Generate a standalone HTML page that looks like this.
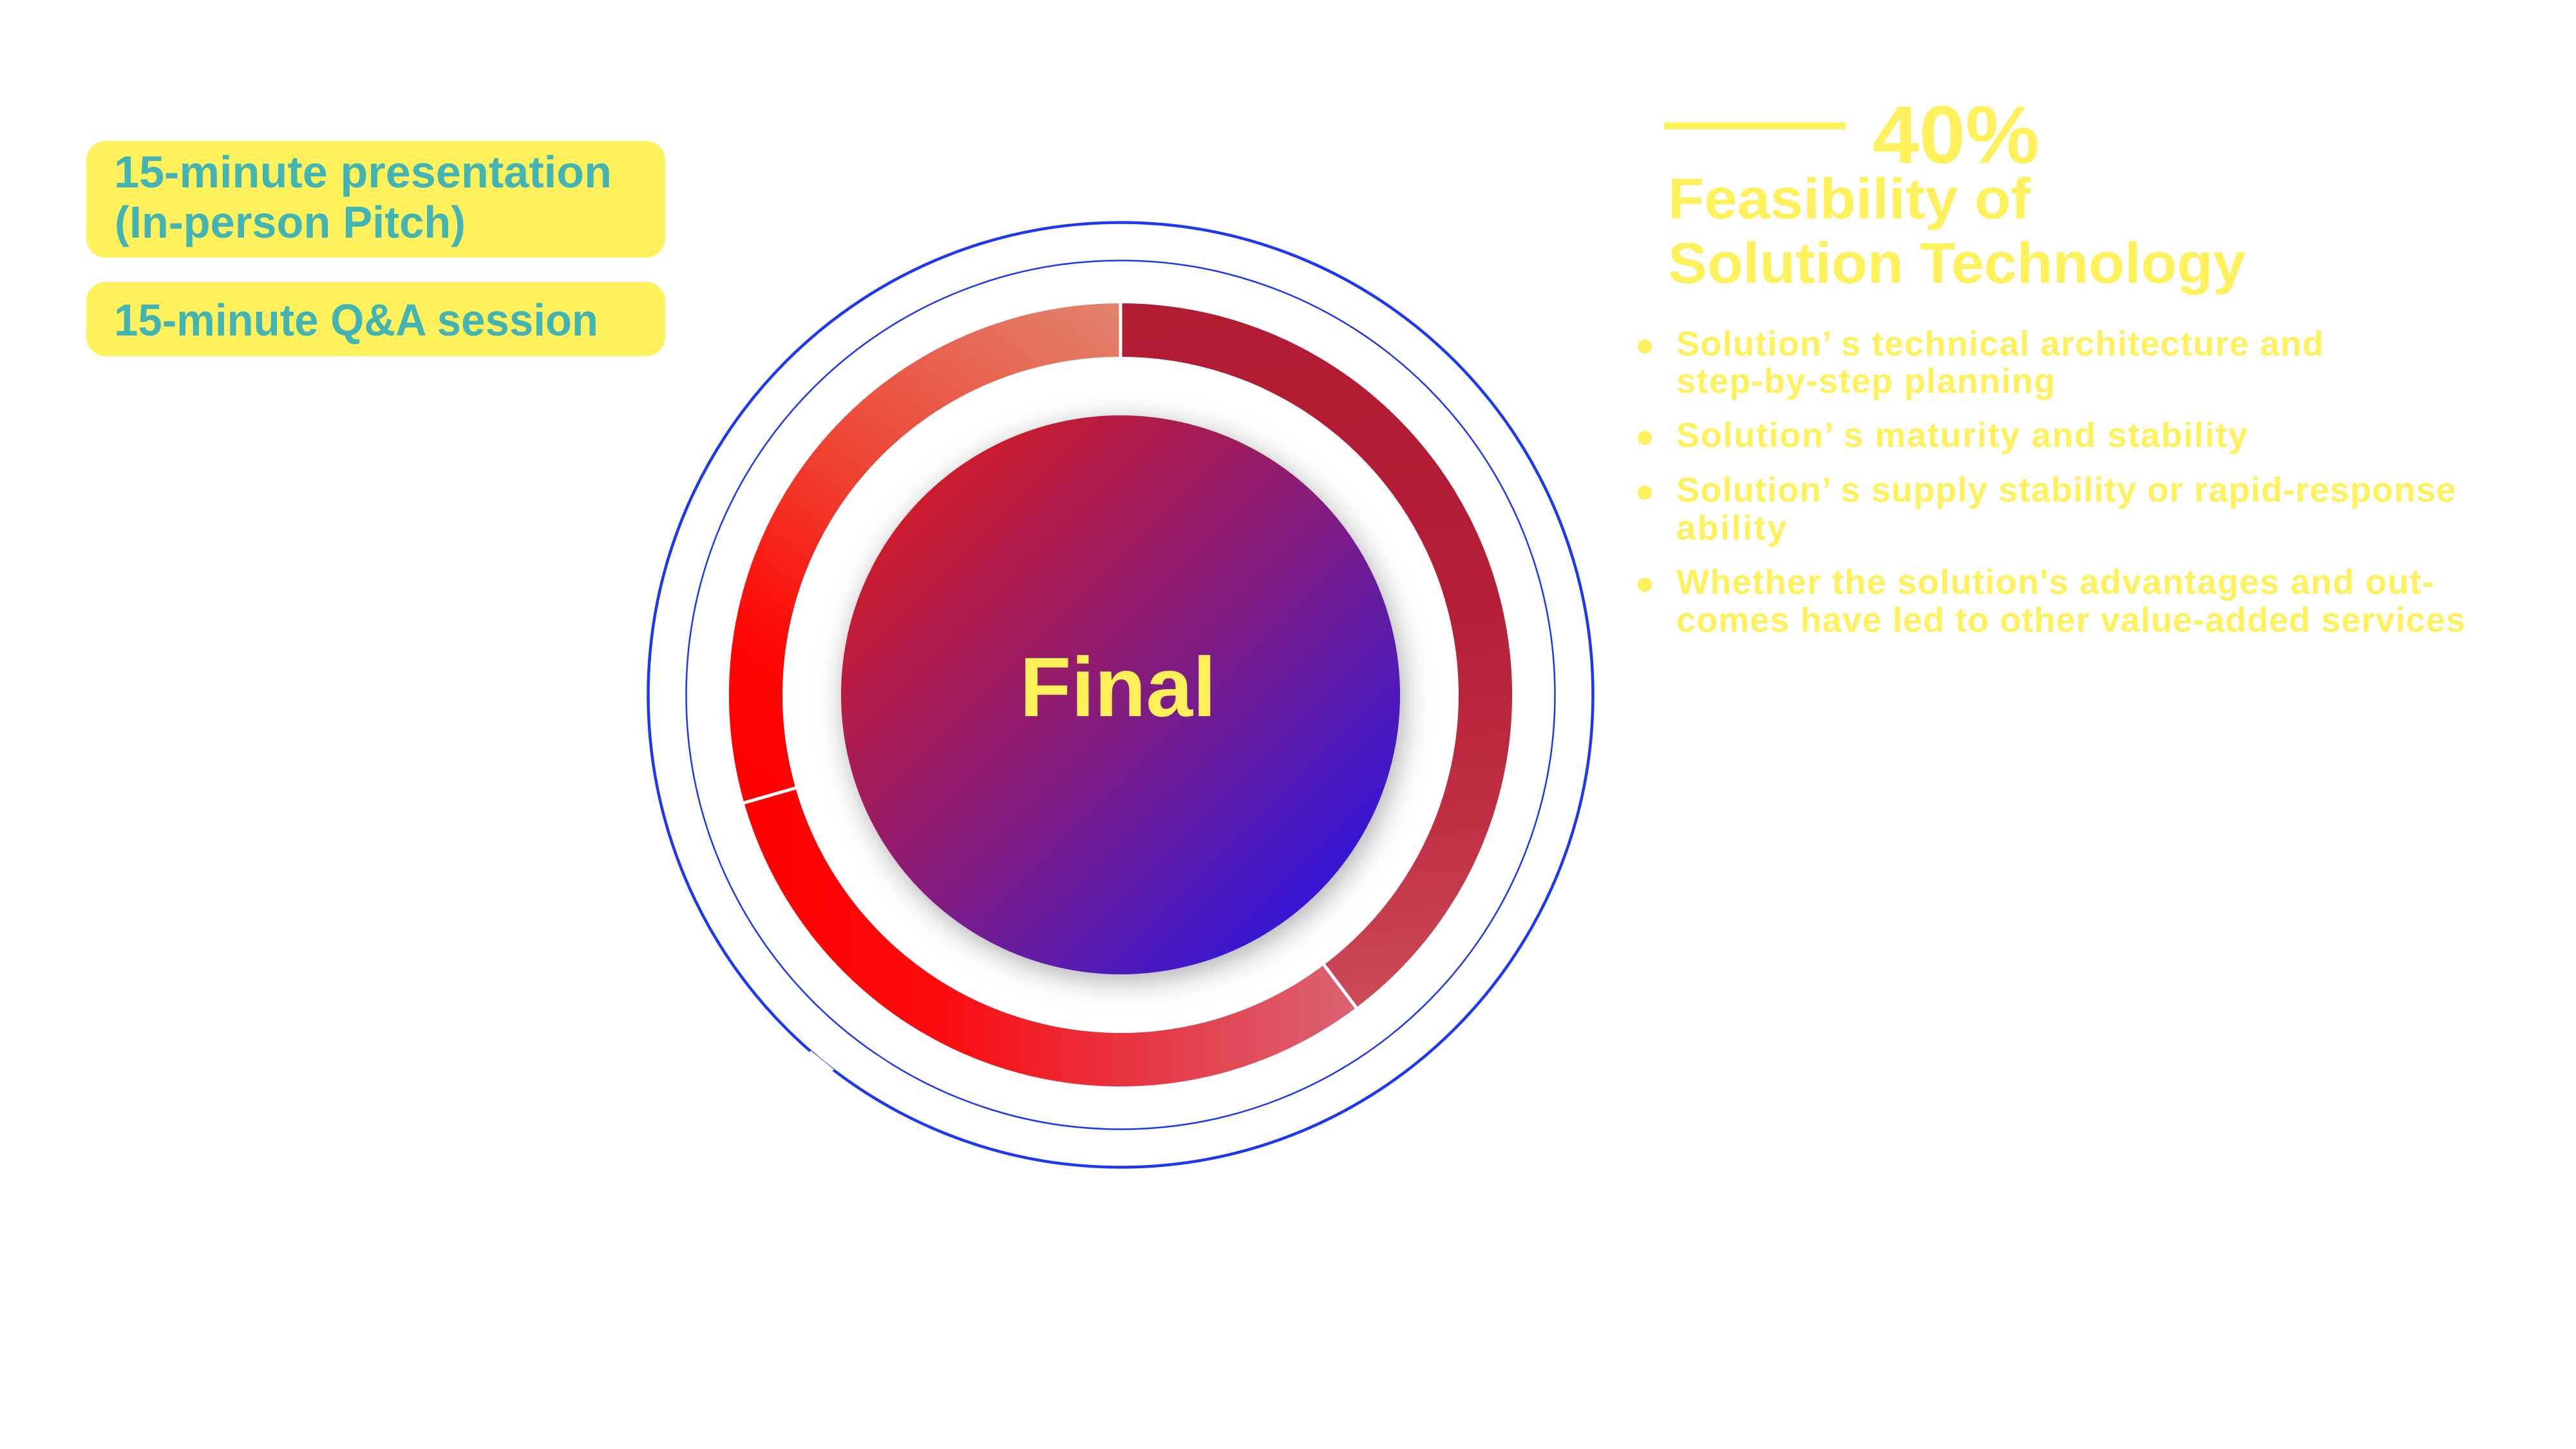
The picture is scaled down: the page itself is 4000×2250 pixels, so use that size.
<!DOCTYPE html>
<html>
<head>
<meta charset="utf-8">
<style>
  html,body{margin:0;padding:0;background:#ffffff;}
  svg{display:block;}
  text{font-family:"Liberation Sans", Arial, sans-serif;font-weight:bold;}
</style>
</head>
<body>
<svg width="4000" height="2250" viewBox="0 0 4000 2250" xmlns="http://www.w3.org/2000/svg">
  <defs>
    <linearGradient id="gCore" gradientUnits="userSpaceOnUse" x1="1433" y1="772" x2="2047" y2="1386">
      <stop offset="0" stop-color="#CC1A2C"/>
      <stop offset="0.5" stop-color="#851B7C"/>
      <stop offset="1" stop-color="#3619D4"/>
    </linearGradient>
    <linearGradient id="gSeg1" gradientUnits="userSpaceOnUse" x1="1900" y1="471" x2="2000" y2="1565">
      <stop offset="0" stop-color="#B11C33"/>
      <stop offset="0.45" stop-color="#B41F37"/>
      <stop offset="0.75" stop-color="#BF2E43"/>
      <stop offset="1" stop-color="#CC4A57"/>
    </linearGradient>
    <linearGradient id="gSeg2" gradientUnits="userSpaceOnUse" x1="1170" y1="1400" x2="2110" y2="1400">
      <stop offset="0" stop-color="#FF0000"/>
      <stop offset="0.3" stop-color="#FB0A0E"/>
      <stop offset="0.6" stop-color="#E8323E"/>
      <stop offset="1" stop-color="#DA6473"/>
    </linearGradient>
    <linearGradient id="gSeg3" gradientUnits="userSpaceOnUse" x1="1190" y1="1250" x2="1760" y2="480">
      <stop offset="0" stop-color="#FF0000"/>
      <stop offset="0.2" stop-color="#FE0603"/>
      <stop offset="0.5" stop-color="#EF4030"/>
      <stop offset="1" stop-color="#E0856E"/>
    </linearGradient>
    <filter id="shadow" x="-30%" y="-30%" width="160%" height="160%">
      <feDropShadow dx="6" dy="10" stdDeviation="22" flood-color="#000000" flood-opacity="0.32"/>
    </filter>
  </defs>

  <!-- Left boxes -->
  <rect x="134" y="219" width="899" height="181" rx="30" ry="30" fill="#FFF15B"/>
  <rect x="134" y="438" width="899" height="115" rx="30" ry="30" fill="#FFF15B"/>
  <text x="177" y="291" font-size="70" fill="#43B4B4" textLength="773" lengthAdjust="spacingAndGlyphs">15-minute presentation</text>
  <text x="178" y="369" font-size="70" fill="#43B4B4" textLength="545" lengthAdjust="spacingAndGlyphs">(In-person Pitch)</text>
  <text x="177" y="521" font-size="70" fill="#43B4B4" textLength="752" lengthAdjust="spacingAndGlyphs">15-minute Q&amp;A session</text>

  <!-- Outer blue circles -->
  <circle cx="1740" cy="1079" r="733.5" fill="none" stroke="#1C38F3" stroke-width="4.5"/>
  <circle cx="1740" cy="1079" r="674.5" fill="none" stroke="#1C38F3" stroke-width="2.5"/>
  <!-- small white marks over blue rings -->
  <line x1="1256" y1="1635" x2="1292" y2="1664" stroke="#ffffff" stroke-width="9"/>
  <line x1="1360" y1="1641" x2="1381" y2="1655" stroke="#ffffff" stroke-width="6"/>

  <!-- Ring segments -->
  <path d="M 1740 471 A 608 608 0 0 1 2105.9 1564.6 L 2055.9 1498.3 A 525 525 0 0 0 1740 554 Z" fill="url(#gSeg1)"/>
  <path d="M 2105.9 1564.6 A 608 608 0 0 1 1155.5 1246.6 L 1235.3 1223.7 A 525 525 0 0 0 2055.9 1498.3 Z" fill="url(#gSeg2)"/>
  <path d="M 1155.5 1246.6 A 608 608 0 0 1 1740 471 L 1740 554 A 525 525 0 0 0 1235.3 1223.7 Z" fill="url(#gSeg3)"/>
  <!-- gaps -->
  <line x1="1740" y1="462" x2="1740" y2="563" stroke="#ffffff" stroke-width="5"/>
  <line x1="2049.9" y1="1490.3" x2="2111.9" y2="1572.5" stroke="#ffffff" stroke-width="5"/>
  <line x1="1244.9" y1="1220.9" x2="1145.9" y2="1249.3" stroke="#ffffff" stroke-width="5"/>

  <!-- Core circle -->
  <circle cx="1740" cy="1079" r="434" fill="url(#gCore)" filter="url(#shadow)"/>
  <text x="1736" y="1112" font-size="131" fill="#FFF05A" text-anchor="middle" textLength="305" lengthAdjust="spacingAndGlyphs">Final</text>

  <!-- Right side heading -->
  <rect x="2584" y="190" width="282" height="11" fill="#FFF15B"/>
  <text x="2908" y="253" font-size="127" fill="#FFF15B" textLength="259" lengthAdjust="spacingAndGlyphs">40%</text>
  <text x="2590" y="339" font-size="89" fill="#FFF15B" textLength="563" lengthAdjust="spacingAndGlyphs">Feasibility of</text>
  <text x="2590" y="439" font-size="89" fill="#FFF15B" textLength="897" lengthAdjust="spacingAndGlyphs">Solution Technology</text>

  <!-- Bullets -->
  <g fill="#FFF15B">
    <circle cx="2554" cy="538" r="11"/>
    <circle cx="2554" cy="680" r="11"/>
    <circle cx="2554" cy="765" r="11"/>
    <circle cx="2554" cy="908" r="11"/>
  </g>
  <g fill="#FFF15B" font-size="54">
    <text x="2603" y="552" textLength="1005" lengthAdjust="spacing">Solution’ s technical architecture and</text>
    <text x="2603" y="610" textLength="588" lengthAdjust="spacing">step-by-step planning</text>
    <text x="2603" y="694" textLength="887" lengthAdjust="spacing">Solution’ s maturity and stability</text>
    <text x="2603" y="779" textLength="1210" lengthAdjust="spacing">Solution’ s supply stability or rapid-response</text>
    <text x="2603" y="838" textLength="171" lengthAdjust="spacing">ability</text>
    <text x="2603" y="922" textLength="1176" lengthAdjust="spacing">Whether the solution's advantages and out-</text>
    <text x="2603" y="981" textLength="1225" lengthAdjust="spacing">comes have led to other value-added services</text>
  </g>
</svg>
</body>
</html>
